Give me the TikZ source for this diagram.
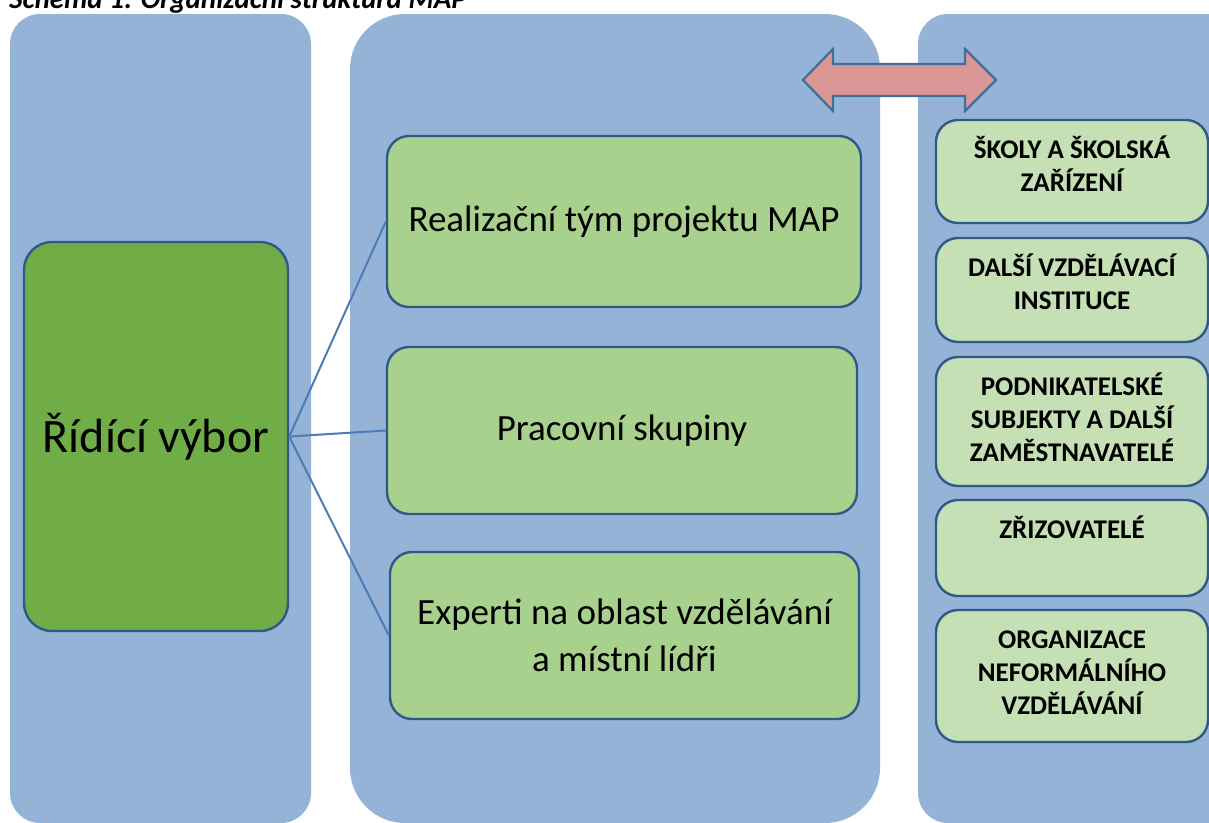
\documentclass[tikz,border=0pt]{standalone}
\usepackage{fontspec}
\setmainfont{Carlito}
\usetikzlibrary{calc}
\definecolor{colblue}{HTML}{95B3D7}
\definecolor{dkgreen}{HTML}{70AD47}
\definecolor{mdgreen}{HTML}{A9D18E}
\definecolor{ltgreen}{HTML}{C5E0B4}
\definecolor{bordblue}{HTML}{2F5A87}
\definecolor{connblue}{HTML}{4A7DB5}
\definecolor{arrfill}{HTML}{D99694}
\definecolor{arrline}{HTML}{3F6E9B}
\tikzset{
  column/.style={fill=colblue},
  mainbox/.style={draw=bordblue, line width=2.4pt, rounded corners=22pt, inner sep=0pt, align=center},
  leftbox/.style={mainbox, fill=dkgreen, rounded corners=28pt, font=\fontsize{48}{57}\selectfont},
  midbox/.style={mainbox, fill=mdgreen, font=\fontsize{37}{47}\selectfont},
  rbox/.style={mainbox, fill=ltgreen, minimum width=272pt},
  rtext/.style={anchor=base, inner sep=0pt},
  conn/.style={draw=connblue, line width=2pt},
  dblarrow/.style={fill=arrfill, draw=arrline, line width=2.2pt, line join=miter},
}
\newcommand{\rlabel}[1]{\parbox[t]{268pt}{\centering\fontsize{27}{33}\selectfont\bfseries #1}}
\begin{document}
\begin{tikzpicture}[x=1pt,y=-1pt]
\useasboundingbox (0,0) rectangle (1209,822);
\clip (0,0) rectangle (1209,822);
% columns
\fill[column, rounded corners=30pt] (10,14) rectangle (311,823);
\fill[column, rounded corners=55pt] (350,14) rectangle (880,823);
\fill[column, rounded corners=30pt] (918,14) rectangle (1240,823);
% title (cut off at the top, as in the reference)
\node[anchor=base west, inner sep=0pt, font=\fontsize{29}{34}\selectfont\bfseries\itshape] (title) at (9,8) {Schéma 1: Organizační struktura MAP};
% double arrow
\draw[dblarrow] (803,80) -- (833,49) -- (833,64) -- (965,64) -- (965,49) -- (996,80)
  -- (965,111) -- (965,96) -- (833,96) -- (833,111) -- cycle;
% left box
\node[leftbox, minimum width=264pt, minimum height=389pt] (rv) at (156,436.5) {Řídící výbor};
% middle boxes
\node[midbox, minimum width=474pt, minimum height=171pt] (m1) at (624,221.5) {Realizační tým projektu MAP};
\node[midbox, minimum width=470pt, minimum height=167pt] (m2) at (622,430.5) {Pracovní skupiny};
\node[midbox, minimum width=469pt, minimum height=167pt] (m3) at (624.5,635.5) {Experti na oblast vzdělávání\\a místní lídři};
% connectors
\draw[conn] (rv.east) -- (m1.west);
\draw[conn] (rv.east) -- (m2.west);
\draw[conn] (rv.east) -- (m3.west);
% right boxes
\node[rbox, minimum height=103pt] (r1) at (1072,171.5) {};
\node[rbox, minimum height=104pt] (r2) at (1072,290) {};
\node[rbox, minimum height=129pt] (r3) at (1072,421.5) {};
\node[rbox, minimum height=96pt] (r4) at (1072,548) {};
\node[rbox, minimum height=132pt] (r5) at (1072,676) {};
\node[rtext] (r1t) at ($(r1.north)+(0,40)$) {\rlabel{ŠKOLY A ŠKOLSKÁ\\ZAŘÍZENÍ}};
\node[rtext] (r2t) at ($(r2.north)+(0,40)$) {\rlabel{DALŠÍ VZDĚLÁVACÍ\\INSTITUCE}};
\node[rtext] (r3t) at ($(r3.north)+(0,40)$) {\rlabel{PODNIKATELSKÉ\\SUBJEKTY A DALŠÍ\\ZAMĚSTNAVATELÉ}};
\node[rtext] (r4t) at ($(r4.north)+(0,40)$) {\rlabel{ZŘIZOVATELÉ}};
\node[rtext] (r5t) at ($(r5.north)+(0,40)$) {\rlabel{ORGANIZACE\\NEFORMÁLNÍHO\\VZDĚLÁVÁNÍ}};
\end{tikzpicture}
\end{document}
